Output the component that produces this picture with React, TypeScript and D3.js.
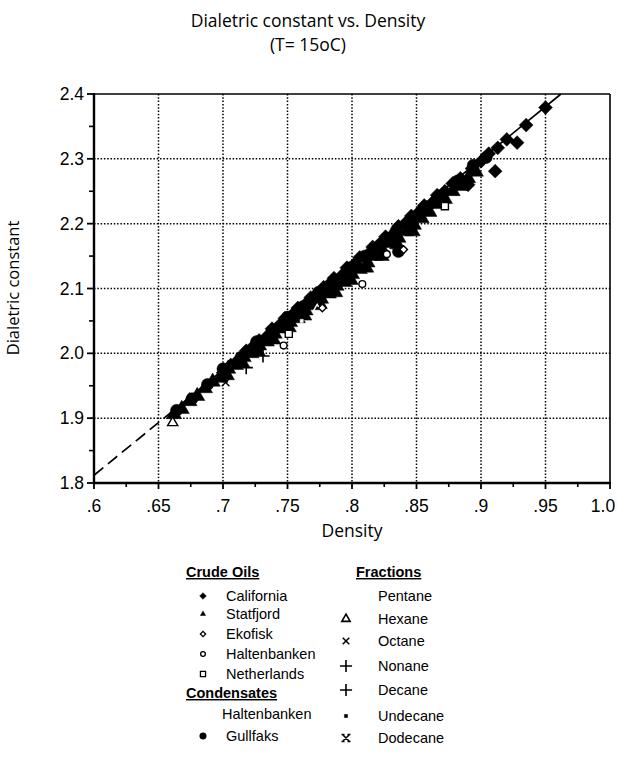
import React from 'react';
import * as d3 from 'd3';

const width = 617;
const height = 760;

// axis ticks
const xTicks = [0.6, 0.65, 0.7, 0.75, 0.8, 0.85, 0.9, 0.95, 1.0];
const xTickLabels = ['.6', '.65', '.7', '.75', '.8', '.85', '.9', '.95', '1.0'];
const xMinor = [0.625, 0.675, 0.725, 0.775, 0.825, 0.875, 0.925, 0.975];
const yTicks = [1.8, 1.9, 2.0, 2.1, 2.2, 2.3, 2.4];
const yTickLabels = ['1.8', '1.9', '2.0', '2.1', '2.2', '2.3', '2.4'];
const yMinor = [1.85, 1.95, 2.05, 2.15, 2.25, 2.35];
const xGrid = [0.65, 0.7, 0.75, 0.8, 0.85, 0.9, 0.95];
const yGrid = [1.9, 2.0, 2.1, 2.2, 2.3];

// fitted line (density, dielectric)
const fitLine: [number, number][] = [[0.6, 1.812], [0.962, 2.4]];
const dashedUntil = 0.655;

// crude oils
const california: [number, number][] = [
  [0.700, 1.970], [0.706, 1.982], [0.712, 1.990], [0.718, 2.004], [0.722, 2.008],
  [0.728, 2.020], [0.734, 2.026], [0.738, 2.038], [0.744, 2.044], [0.748, 2.054],
  [0.754, 2.060], [0.758, 2.070], [0.764, 2.076], [0.768, 2.086], [0.772, 2.090],
  [0.778, 2.102], [0.782, 2.106], [0.786, 2.116], [0.792, 2.120], [0.796, 2.132],
  [0.802, 2.138], [0.806, 2.148], [0.812, 2.152], [0.816, 2.164], [0.822, 2.170],
  [0.826, 2.180], [0.832, 2.184], [0.836, 2.196], [0.842, 2.202], [0.846, 2.212],
  [0.852, 2.218], [0.856, 2.228], [0.862, 2.232], [0.866, 2.244], [0.872, 2.250],
  [0.878, 2.262], [0.884, 2.270], [0.890, 2.260], [0.893, 2.285], [0.900, 2.296],
  [0.906, 2.308], [0.913, 2.317], [0.911, 2.281], [0.920, 2.330], [0.928, 2.325],
  [0.935, 2.352], [0.950, 2.379],
];
const statfjord: [number, number][] = [
  [0.662, 1.906], [0.668, 1.914], [0.674, 1.926], [0.680, 1.934], [0.686, 1.946],
  [0.692, 1.956], [0.698, 1.962], [0.704, 1.976], [0.710, 1.982], [0.716, 1.994],
  [0.722, 2.000], [0.728, 2.012], [0.734, 2.018], [0.740, 2.030], [0.746, 2.038],
  [0.752, 2.048], [0.758, 2.054], [0.764, 2.066], [0.770, 2.074], [0.776, 2.084],
  [0.782, 2.092], [0.788, 2.104], [0.794, 2.110], [0.800, 2.122], [0.806, 2.130],
  [0.812, 2.140], [0.818, 2.150], [0.824, 2.158], [0.830, 2.170], [0.836, 2.178],
  [0.842, 2.188], [0.848, 2.198], [0.854, 2.208], [0.860, 2.218], [0.866, 2.230],
  [0.872, 2.238], [0.878, 2.250], [0.884, 2.258], [0.890, 2.270], [0.896, 2.280],
  [0.703, 1.966], [0.715, 1.985], [0.727, 2.003], [0.739, 2.021], [0.751, 2.040],
  [0.763, 2.058], [0.775, 2.076], [0.787, 2.094], [0.799, 2.113], [0.811, 2.132],
  [0.823, 2.150], [0.835, 2.168], [0.847, 2.188],
];
const ekofisk: [number, number][] = [[0.840, 2.160], [0.777, 2.070]];
const haltenbanken: [number, number][] = [[0.808, 2.107], [0.827, 2.153], [0.747, 2.012]];
const netherlands: [number, number][] = [[0.751, 2.030], [0.872, 2.227]];
// condensates
const gullfaks: [number, number][] = [
  [0.664, 1.912], [0.676, 1.930], [0.688, 1.952], [0.700, 1.976], [0.714, 1.994],
  [0.726, 2.018], [0.738, 2.034], [0.750, 2.056], [0.762, 2.072], [0.774, 2.094],
  [0.786, 2.110], [0.798, 2.132], [0.810, 2.150], [0.822, 2.166], [0.834, 2.188],
  [0.836, 2.157], [0.846, 2.206], [0.858, 2.226], [0.870, 2.244], [0.882, 2.266],
  [0.894, 2.290], [0.904, 2.302],
];
// fractions
const hexane: [number, number][] = [[0.661, 1.893]];
const octane: [number, number][] = [[0.702, 1.955]];
const nonane: [number, number][] = [[0.718, 1.978]];
const decane: [number, number][] = [[0.731, 1.996]];
const undecane: [number, number][] = [[0.761, 2.050]];
const dodecane: [number, number][] = [[0.773, 2.068]];

const crudeNames = ['California', 'Statfjord', 'Ekofisk', 'Haltenbanken', 'Netherlands'];
const condensateNames = ['Haltenbanken', 'Gullfaks'];
const fractionNames = ['Pentane', 'Hexane', 'Octane', 'Nonane', 'Decane', 'Undecane', 'Dodecane'];

const x = d3.scaleLinear().domain([0.6, 1.0]).range([94, 610]);
const y = d3.scaleLinear().domain([1.8, 2.4]).range([483, 94]);

const sym = (type: d3.SymbolType, size: number) => d3.symbol().type(type).size(size)() || '';
const dodecPath = (s: number) =>
  `M${-s},${-s}L${s},${s}M${s},${-s}L${-s},${s}M${-s - 1},${-s}H${-s + 2}M${s - 2},${-s}H${s + 1}M${-s - 1},${s}H${-s + 2}M${s - 2},${s}H${s + 1}`;

type Marker = { d: string; fill: string; stroke: string; sw: number; rot?: number };

const markers: Record<string, Marker> = {
  California: { d: sym(d3.symbolSquare, 95), fill: '#000', stroke: '#000', sw: 0.5, rot: 45 },
  Statfjord: { d: sym(d3.symbolTriangle, 100), fill: '#000', stroke: '#000', sw: 0.5 },
  Ekofisk: { d: sym(d3.symbolSquare, 30), fill: '#fff', stroke: '#000', sw: 1.4, rot: 45 },
  Haltenbanken: { d: sym(d3.symbolCircle, 36), fill: '#fff', stroke: '#000', sw: 1.4 },
  Netherlands: { d: sym(d3.symbolSquare, 50), fill: '#fff', stroke: '#000', sw: 1.4 },
  Gullfaks: { d: sym(d3.symbolCircle, 115), fill: '#000', stroke: '#000', sw: 0.5 },
  Hexane: { d: sym(d3.symbolTriangle, 45), fill: '#fff', stroke: '#000', sw: 1.4 },
  Octane: { d: sym(d3.symbolTimes, 40), fill: 'none', stroke: '#000', sw: 1.4 },
  Nonane: { d: sym(d3.symbolPlus, 60), fill: 'none', stroke: '#000', sw: 1.6 },
  Decane: { d: sym(d3.symbolPlus, 60), fill: 'none', stroke: '#000', sw: 1.6 },
  Undecane: { d: sym(d3.symbolSquare, 10), fill: '#fff', stroke: '#fff', sw: 0.5 },
  Dodecane: { d: sym(d3.symbolTriangle, 30), fill: 'none', stroke: '#fff', sw: 1.4 },
};

const legendMarkers: Record<string, Marker> = {
  California: { d: sym(d3.symbolSquare, 22), fill: '#000', stroke: '#000', sw: 0.5, rot: 45 },
  Statfjord: { d: sym(d3.symbolTriangle, 12), fill: '#000', stroke: '#000', sw: 0.5 },
  Ekofisk: { d: sym(d3.symbolSquare, 14), fill: '#fff', stroke: '#000', sw: 1.3, rot: 45 },
  Haltenbanken: { d: sym(d3.symbolCircle, 18), fill: '#fff', stroke: '#000', sw: 1.3 },
  Netherlands: { d: sym(d3.symbolSquare, 26), fill: '#fff', stroke: '#000', sw: 1.3 },
  Gullfaks: { d: sym(d3.symbolCircle, 34), fill: '#000', stroke: '#000', sw: 0.5 },
  Hexane: { d: sym(d3.symbolTriangle, 30), fill: '#fff', stroke: '#000', sw: 1.6 },
  Octane: { d: sym(d3.symbolTimes, 30), fill: 'none', stroke: '#000', sw: 1.5 },
  Nonane: { d: sym(d3.symbolPlus, 50), fill: 'none', stroke: '#000', sw: 1.6 },
  Decane: { d: sym(d3.symbolPlus, 50), fill: 'none', stroke: '#000', sw: 1.6 },
  Undecane: { d: sym(d3.symbolSquare, 10), fill: '#000', stroke: '#000', sw: 0.5 },
  Dodecane: { d: dodecPath(3.5), fill: 'none', stroke: '#000', sw: 1.5 },
};

const drawOrder: [string, [number, number][]][] = [
  ['Statfjord', statfjord],
  ['California', california],
  ['Gullfaks', gullfaks],
  ['Hexane', hexane],
  ['Octane', octane],
  ['Nonane', nonane],
  ['Decane', decane],
  ['Undecane', undecane],
  ['Dodecane', dodecane],
  ['Netherlands', netherlands],
  ['Haltenbanken', haltenbanken],
  ['Ekofisk', ekofisk],
];

const MarkerPath = ({ m, cx, cy }: { m: Marker; cx: number; cy: number }) => (
  <path
    d={m.d}
    transform={`translate(${cx},${cy})${m.rot ? ` rotate(${m.rot})` : ''}`}
    fill={m.fill}
    stroke={m.stroke}
    strokeWidth={m.sw}
  />
);

const App = () => {
  const line = d3.line<[number, number]>().x(d => x(d[0])).y(d => y(d[1]));
  const slope = (fitLine[1][1] - fitLine[0][1]) / (fitLine[1][0] - fitLine[0][0]);
  const dashEnd: [number, number] = [dashedUntil, fitLine[0][1] + slope * (dashedUntil - fitLine[0][0])];

  const tickFont = '"Liberation Sans", Arial, sans-serif';
  const titleFont = '"Open Sans", "Noto Sans", sans-serif';

  const leftRows = [596, 614, 634, 654, 674];
  const condRows = [714, 736];
  const fracRows = [596, 619, 641, 666, 690, 716, 738];

  return (
    <svg width={width} height={height} style={{ position: 'absolute', left: 0, top: 0, background: '#fff' }}>
      <rect x={0} y={0} width={width} height={height} fill="#fff" />
      {/* title */}
      <text x={308} y={27} textAnchor="middle" fontFamily={titleFont} fontSize={17.5}>
        Dialetric constant vs. Density
      </text>
      <text x={308} y={51} textAnchor="middle" fontFamily={titleFont} fontSize={17.5}>
        (T= 15oC)
      </text>

      {/* grid */}
      {xGrid.map(v => (
        <line key={'gx' + v} x1={x(v)} x2={x(v)} y1={y(2.4)} y2={y(1.8)} stroke="#000" strokeWidth={1.5} strokeDasharray="1.5,1.8" />
      ))}
      {yGrid.map(v => (
        <line key={'gy' + v} x1={x(0.6)} x2={x(1.0)} y1={y(v)} y2={y(v)} stroke="#000" strokeWidth={1.5} strokeDasharray="1.5,1.8" />
      ))}

      {/* fit line */}
      <path d={line([fitLine[0], dashEnd]) || ''} fill="none" stroke="#000" strokeWidth={1.7} strokeDasharray="12,6" />
      <path d={line([dashEnd, fitLine[1]]) || ''} fill="none" stroke="#000" strokeWidth={1.7} />

      {/* points */}
      {drawOrder.map(([name, pts]) =>
        pts.map((p, i) => <MarkerPath key={name + i} m={markers[name]} cx={x(p[0])} cy={y(p[1])} />)
      )}

      {/* frame */}
      <line x1={x(0.6)} x2={x(1.0)} y1={y(2.4)} y2={y(2.4)} stroke="#000" strokeWidth={1.6} />
      <line x1={x(1.0)} x2={x(1.0)} y1={y(2.4)} y2={y(1.8)} stroke="#000" strokeWidth={1.6} />
      <line x1={x(0.6)} x2={x(0.6)} y1={y(2.4) - 1} y2={y(1.8) + 1} stroke="#000" strokeWidth={2.4} />
      <line x1={x(0.6) - 1} x2={x(1.0) + 1} y1={y(1.8)} y2={y(1.8)} stroke="#000" strokeWidth={2.6} />

      {/* x ticks */}
      {xTicks.map((v, i) => (
        <g key={'xt' + v}>
          <line x1={x(v)} x2={x(v)} y1={y(1.8)} y2={y(1.8) + 6} stroke="#000" strokeWidth={1.8} />
          <text x={Math.min(x(v), 603)} y={512} textAnchor="middle" fontFamily={tickFont} fontSize={17.5}>
            {xTickLabels[i]}
          </text>
        </g>
      ))}
      {xMinor.map(v => (
        <line key={'xm' + v} x1={x(v)} x2={x(v)} y1={y(1.8)} y2={y(1.8) + 4} stroke="#000" strokeWidth={1.6} />
      ))}
      {/* y ticks */}
      {yTicks.map((v, i) => (
        <g key={'yt' + v}>
          <line x1={x(0.6) - 7} x2={x(0.6)} y1={y(v)} y2={y(v)} stroke="#000" strokeWidth={1.8} />
          <text x={84} y={y(v) + 6} textAnchor="end" fontFamily={tickFont} fontSize={17.5}>
            {yTickLabels[i]}
          </text>
        </g>
      ))}
      {yMinor.map(v => (
        <line key={'ym' + v} x1={x(0.6) - 5} x2={x(0.6)} y1={y(v)} y2={y(v)} stroke="#000" strokeWidth={1.6} />
      ))}

      {/* axis titles */}
      <text x={352} y={537} textAnchor="middle" fontFamily={titleFont} fontSize={17.5}>
        Density
      </text>
      <text transform="translate(19,288) rotate(-90)" textAnchor="middle" fontFamily={titleFont} fontSize={16.5}>
        Dialetric constant
      </text>

      {/* legend */}
      <g fontFamily={tickFont} fontSize={14.5}>
        <text x={186} y={577} fontWeight="bold" textDecoration="underline">Crude Oils</text>
        {crudeNames.map((n, i) => (
          <g key={'c' + n}>
            <MarkerPath m={legendMarkers[n]} cx={203} cy={leftRows[i]} />
            <text x={226} y={leftRows[i] + 5}>{n}</text>
          </g>
        ))}
        <text x={186} y={698} fontWeight="bold" textDecoration="underline">Condensates</text>
        {condensateNames.map((n, i) => (
          <g key={'k' + n}>
            {i > 0 && <MarkerPath m={legendMarkers[n]} cx={203} cy={condRows[i]} />}
            <text x={i === 0 ? 222 : 226} y={condRows[i] + 5}>{n}</text>
          </g>
        ))}
        <text x={356} y={577} fontWeight="bold" textDecoration="underline">Fractions</text>
        {fractionNames.map((n, i) => (
          <g key={'f' + n}>
            {legendMarkers[n] && <MarkerPath m={legendMarkers[n]} cx={346} cy={fracRows[i]} />}
            <text x={378} y={fracRows[i] + 5}>{n}</text>
          </g>
        ))}
      </g>
    </svg>
  );
};

export default App;
